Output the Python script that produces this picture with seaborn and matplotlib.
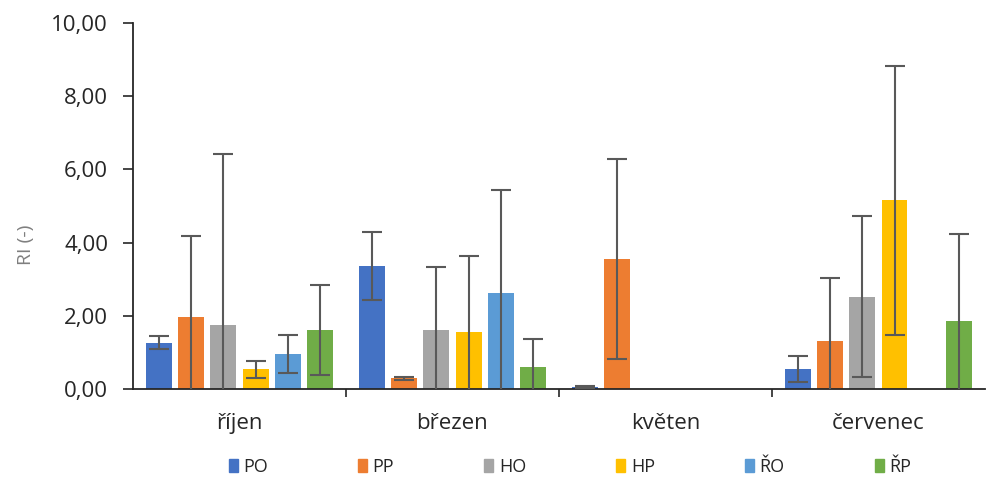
"""RI by month and variant, grouped bars with error bars."""

import matplotlib

matplotlib.use("Agg")
import matplotlib.pyplot as plt
import numpy as np
import pandas as pd
import seaborn as sns
from matplotlib.ticker import FixedLocator, FuncFormatter


MONTHS = ["říjen", "březen", "květen", "červenec"]
SERIES = ["PO", "PP", "HO", "HP", "ŘO", "ŘP"]
COLORS = ["#4472C4", "#ED7D31", "#A5A5A5", "#FFC000", "#5B9BD5", "#70AD47"]

# mean RI per series, one value per month (0 = no bar)
RI_PO = [1.27, 3.36, 0.06, 0.55]
RI_PP = [1.98, 0.30, 3.55, 1.32]
RI_HO = [1.74, 1.62, 0.00, 2.53]
RI_HP = [0.55, 1.56, 0.00, 5.16]
RI_RO = [0.96, 2.64, 0.00, 0.00]
RI_RP = [1.62, 0.60, 0.00, 1.86]

# error bar half-widths (nan = no error bar)
ERR_PO = [0.17, 0.93, 0.02, 0.36]
ERR_PP = [2.20, 0.04, 2.73, 1.72]
ERR_HO = [4.67, 1.72, np.nan, 2.20]
ERR_HP = [0.23, 2.08, np.nan, 3.67]
ERR_RO = [0.51, 2.80, np.nan, np.nan]
ERR_RP = [1.23, 0.76, np.nan, 2.38]


def build_frame():
    values = [RI_PO, RI_PP, RI_HO, RI_HP, RI_RO, RI_RP]
    errors = [ERR_PO, ERR_PP, ERR_HO, ERR_HP, ERR_RO, ERR_RP]
    rows = []
    for name, vals, errs in zip(SERIES, values, errors):
        for month, v, e in zip(MONTHS, vals, errs):
            rows.append({"month": month, "series": name, "RI": v, "err": e})
    return pd.DataFrame(rows)


def main():
    df = build_frame()

    sns.set_theme(style="white")
    plt.rcParams["font.family"] = ["Open Sans", "DejaVu Sans"]

    fig = plt.figure(figsize=(9.87, 4.79), dpi=100)
    ax = fig.add_axes([0.1348, 0.1873, 0.863, 0.7653])

    sns.barplot(
        data=df, x="month", y="RI", hue="series",
        order=MONTHS, hue_order=SERIES, palette=COLORS, saturation=1,
        width=0.91, gap=0.2, errorbar=None, linewidth=0,
        legend=False, ax=ax,
    )

    # error bars placed on the bars seaborn drew
    for name, container in zip(SERIES, ax.containers):
        sub = df[df["series"] == name].set_index("month").loc[MONTHS]
        xs = [bar.get_x() + bar.get_width() / 2 for bar in container]
        ax.errorbar(xs, sub["RI"].values, yerr=sub["err"].values, fmt="none",
                    ecolor="#595959", elinewidth=1.5, capsize=7, capthick=1.5, zorder=3)

    ax.set_ylim(0, 10)
    ax.set_xlim(-0.5, 3.5)
    ax.yaxis.set_major_locator(FixedLocator(np.arange(0, 10.01, 2)))
    ax.yaxis.set_major_formatter(FuncFormatter(lambda v, _: f"{v:.2f}".replace(".", ",")))
    ax.set_xticks(np.arange(0.5, 3.0, 1.0), minor=True)

    ax.tick_params(axis="y", left=True, length=7, width=1.2, pad=11,
                   labelsize=16, labelcolor="#262626", color="#262626")
    ax.tick_params(axis="x", which="major", length=0, pad=17, labelsize=16, labelcolor="#262626")
    ax.tick_params(axis="x", which="minor", bottom=True, length=6, width=1.2, color="#262626")

    for side in ["top", "right"]:
        ax.spines[side].set_visible(False)
    for side in ["left", "bottom"]:
        ax.spines[side].set_color("#262626")
        ax.spines[side].set_linewidth(1.3)

    ax.set_xlabel("")
    ax.set_ylabel("RI (-)", fontsize=14, color="#7f7f7f")
    ax.yaxis.set_label_coords(-0.115, 0.394)

    handles = [plt.Rectangle((0, 0), 1, 1, color=c) for c in COLORS]
    fig.legend(handles, SERIES, loc="center", bbox_to_anchor=(0.5775, 0.025),
               ncol=6, frameon=False, fontsize=13, handlelength=0.5, handleheight=0.7,
               handletextpad=0.3, columnspacing=5.0, labelcolor="#262626")

    fig.savefig("out.png", dpi=100)
    plt.close(fig)


if __name__ == "__main__":
    main()
